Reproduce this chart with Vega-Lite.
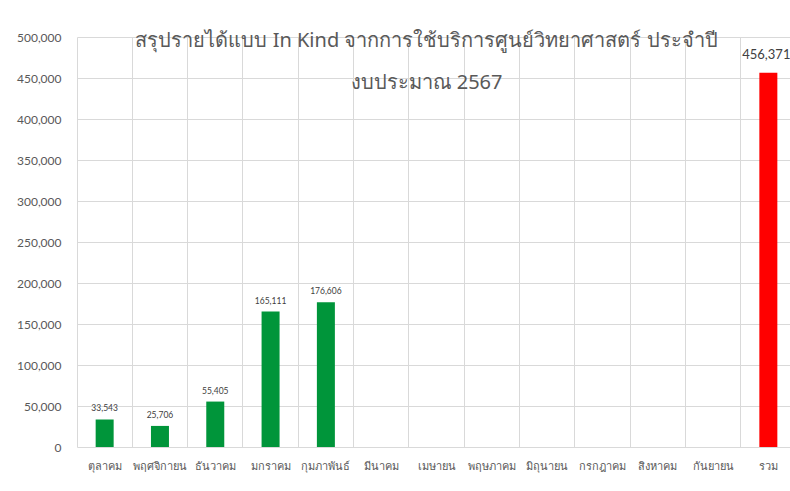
{
  "$schema": "https://vega.github.io/schema/vega-lite/v6.json",
  "autosize": "none",
  "width": 719,
  "height": 410,
  "padding": {"left": 77, "top": 37, "right": 0, "bottom": 44},
  "background": "white",
  "title": {
    "text": ["สรุปรายได้แบบ In Kind จากการใช้บริการศูนย์วิทยาศาสตร์  ประจำปี", "งบประมาณ 2567"],
    "anchor": "middle",
    "orient": "top",
    "offset": -62,
    "dx": -10,
    "fontSize": 20,
    "fontWeight": "normal",
    "lineHeight": 42,
    "color": "#595959",
    "font": "Noto Sans"
  },
  "data": {
    "values": [
      {"month": "ตุลาคม", "value": 33543, "kind": "month"},
      {"month": "พฤศจิกายน", "value": 25706, "kind": "month"},
      {"month": "ธันวาคม", "value": 55405, "kind": "month"},
      {"month": "มกราคม", "value": 165111, "kind": "month"},
      {"month": "กุมภาพันธ์", "value": 176606, "kind": "month"},
      {"month": "มีนาคม", "value": null, "kind": "month"},
      {"month": "เมษายน", "value": null, "kind": "month"},
      {"month": "พฤษภาคม", "value": null, "kind": "month"},
      {"month": "มิถุนายน", "value": null, "kind": "month"},
      {"month": "กรกฎาคม", "value": null, "kind": "month"},
      {"month": "สิงหาคม", "value": null, "kind": "month"},
      {"month": "กันยายน", "value": null, "kind": "month"},
      {"month": "รวม", "value": 456371, "kind": "total"}
    ]
  },
  "encoding": {
    "x": {
      "field": "month",
      "type": "nominal",
      "sort": null,
      "scale": {
        "domain": ["ตุลาคม", "พฤศจิกายน", "ธันวาคม", "มกราคม", "กุมภาพันธ์", "มีนาคม", "เมษายน", "พฤษภาคม", "มิถุนายน", "กรกฎาคม", "สิงหาคม", "กันยายน", "รวม"],
        "paddingInner": 0,
        "paddingOuter": 0
      },
      "axis": {
        "title": null,
        "labelAngle": 0,
        "grid": true,
        "bandPosition": 0,
        "gridColor": "#d9d9d9",
        "ticks": false,
        "domain": false,
        "labelPadding": 13,
        "labelFontSize": 11,
        "labelColor": "#595959",
        "labelFont": "Noto Sans"
      }
    },
    "y": {
      "field": "value",
      "type": "quantitative",
      "scale": {"domain": [0, 500000]},
      "axis": {
        "title": null,
        "values": [0, 50000, 100000, 150000, 200000, 250000, 300000, 350000, 400000, 450000, 500000],
        "format": ",.0f",
        "grid": true,
        "gridColor": "#d9d9d9",
        "ticks": false,
        "domain": false,
        "labelPadding": 16,
        "labelFontSize": 12,
        "labelColor": "#595959",
        "labelFont": "Lato"
      }
    }
  },
  "layer": [
    {
      "mark": {"type": "bar", "size": 18},
      "encoding": {
        "color": {
          "field": "kind",
          "type": "nominal",
          "scale": {"domain": ["month", "total"], "range": ["#00953a", "#ff0000"]},
          "legend": null
        }
      }
    },
    {
      "transform": [{"filter": "datum.kind == 'month' && datum.value != null"}],
      "mark": {"type": "text", "baseline": "alphabetic", "dy": -8, "fontSize": 8.5, "color": "#404040", "font": "Lato"},
      "encoding": {"text": {"field": "value", "type": "quantitative", "format": ",.0f"}}
    },
    {
      "transform": [{"filter": "datum.kind == 'total'"}],
      "mark": {"type": "text", "baseline": "alphabetic", "dy": -14, "dx": -2, "fontSize": 13, "color": "#404040", "font": "Lato"},
      "encoding": {"text": {"field": "value", "type": "quantitative", "format": ",.0f"}}
    }
  ],
  "config": {"view": {"stroke": null}}
}
